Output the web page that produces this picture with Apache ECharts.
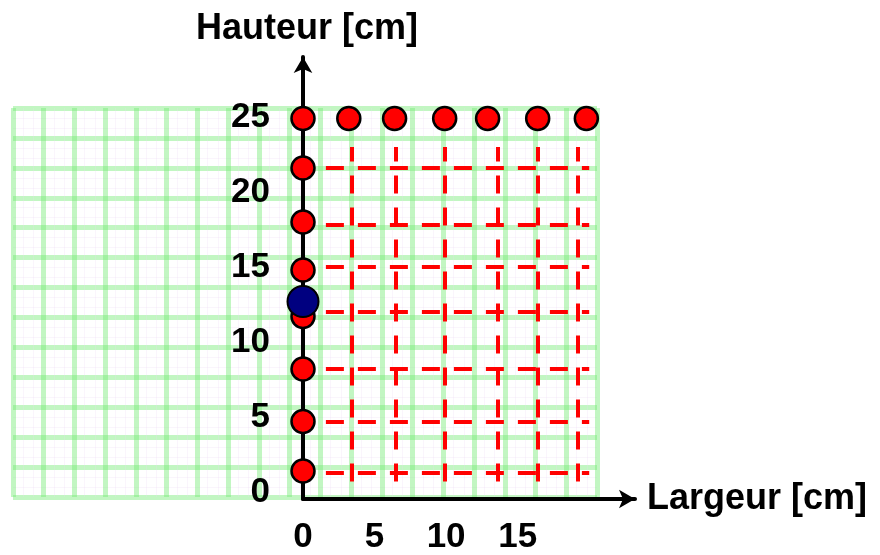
<!DOCTYPE html>
<html>
<head>
<meta charset="utf-8">
<script src="https://cdn.jsdelivr.net/npm/echarts@6/dist/echarts.min.js"></script>
<style>
  html, body { margin: 0; padding: 0; background: #fff; }
  #main { width: 880px; height: 555px; }
</style>
</head>
<body>
<div id="main"></div>
<script>
// points along the height axis (x = 0)
var leftY = [24.9, 21.6, 18.0, 14.8, 11.7, 8.2, 4.7, 1.4];
// points along the top row
var topX = [3.2, 6.4, 9.9, 12.9, 16.4, 19.8];
var topY = 24.9;
// the blue point
var bluePoint = [0, 12.7];
// red dashed guide lines
var hLineY = [21.6, 17.8, 15.0, 12.0, 8.2, 4.7, 1.3];
var hLineX = [1.6, 20.0];
var vLineX = [3.4, 6.5, 9.9, 13.6, 16.4, 19.2];
var vLineY = [0.7, 23.0];
// tick labels
var xTicks = [0, 5, 10, 15];
var yTicks = [0, 5, 10, 15, 20, 25];

var chart = echarts.init(document.getElementById('main'));
var font = '"Liberation Sans", Arial, sans-serif';

var redPts = leftY.map(function (y) { return [0, y]; })
  .concat(topX.map(function (x) { return [x, topY]; }));

var dashLines = [];
hLineY.forEach(function (y) {
  dashLines.push({ coords: [[hLineX[0], y], [hLineX[1], y]] });
});
vLineX.forEach(function (x) {
  dashLines.push({ coords: [[x, vLineY[0]], [x, vLineY[1]]] });
});

var paperLine = { color: 'rgba(120,235,120,0.45)', width: 5 };
var paperMinor = { color: 'rgba(235,215,245,0.25)', width: 1 };

var option = {
  backgroundColor: '#fff',
  animation: false,
  grid: [
    { left: 303, top: 57, width: 332, height: 443 },   // main axes
    { left: 13, top: 108, width: 584, height: 389 }     // graph paper
  ],
  xAxis: [
    {
      type: 'value', gridIndex: 0, min: 0, max: 23.2,
      name: 'Largeur [cm]', nameLocation: 'end', nameGap: 12,
      nameTextStyle: { fontFamily: font, fontWeight: 'bold', fontSize: 36, color: '#000', verticalAlign: 'middle' },
      axisLine: { onZero: false, symbol: ['none', 'arrow'], symbolSize: [14, 16], lineStyle: { color: '#000', width: 4 } },
      axisTick: { show: false },
      splitLine: { show: false },
      axisLabel: { customValues: xTicks, margin: 21, fontFamily: font, fontWeight: 'bold', fontSize: 35, color: '#000' },
      z: 5
    },
    {
      type: 'value', gridIndex: 1, min: 0, max: 19, interval: 1,
      axisLine: { show: false }, axisTick: { show: false }, axisLabel: { show: false },
      splitLine: { lineStyle: paperLine },
      minorTick: { show: false, splitNumber: 3 },
      minorSplitLine: { show: true, lineStyle: paperMinor }
    }
  ],
  yAxis: [
    {
      type: 'value', gridIndex: 0, min: -0.47, max: 29.0,
      name: 'Hauteur [cm]', nameLocation: 'end', nameGap: 10,
      nameTextStyle: { fontFamily: font, fontWeight: 'bold', fontSize: 36, color: '#000', padding: [0, 0, 0, 8] },
      axisLine: { onZero: false, symbol: ['none', 'arrow'], symbolSize: [14, 16], lineStyle: { color: '#000', width: 4 } },
      axisTick: { show: false },
      splitLine: { show: false },
      axisLabel: { customValues: yTicks, margin: 33, fontFamily: font, fontWeight: 'bold', fontSize: 35, color: '#000' },
      z: 5
    },
    {
      type: 'value', gridIndex: 1, min: 0, max: 13, interval: 1,
      axisLine: { show: false }, axisTick: { show: false }, axisLabel: { show: false },
      splitLine: { lineStyle: paperLine },
      minorTick: { show: false, splitNumber: 3 },
      minorSplitLine: { show: true, lineStyle: paperMinor }
    }
  ],
  series: [
    {
      name: 'guides', type: 'lines', coordinateSystem: 'cartesian2d',
      xAxisIndex: 0, yAxisIndex: 0, z: 3,
      lineStyle: { color: '#ff0000', width: 4, type: [18, 14], opacity: 1 },
      data: dashLines
    },
    {
      name: 'rouge', type: 'scatter', xAxisIndex: 0, yAxisIndex: 0, z: 6,
      symbolSize: 23,
      itemStyle: { color: '#ff0000', borderColor: '#000', borderWidth: 2.5, opacity: 1 },
      data: redPts
    },
    {
      name: 'bleu', type: 'scatter', xAxisIndex: 0, yAxisIndex: 0, z: 7,
      symbolSize: 31,
      itemStyle: { color: '#000080', borderColor: '#000', borderWidth: 2, opacity: 1 },
      data: [bluePoint]
    }
  ]
};
chart.setOption(option);
</script>
</body>
</html>
